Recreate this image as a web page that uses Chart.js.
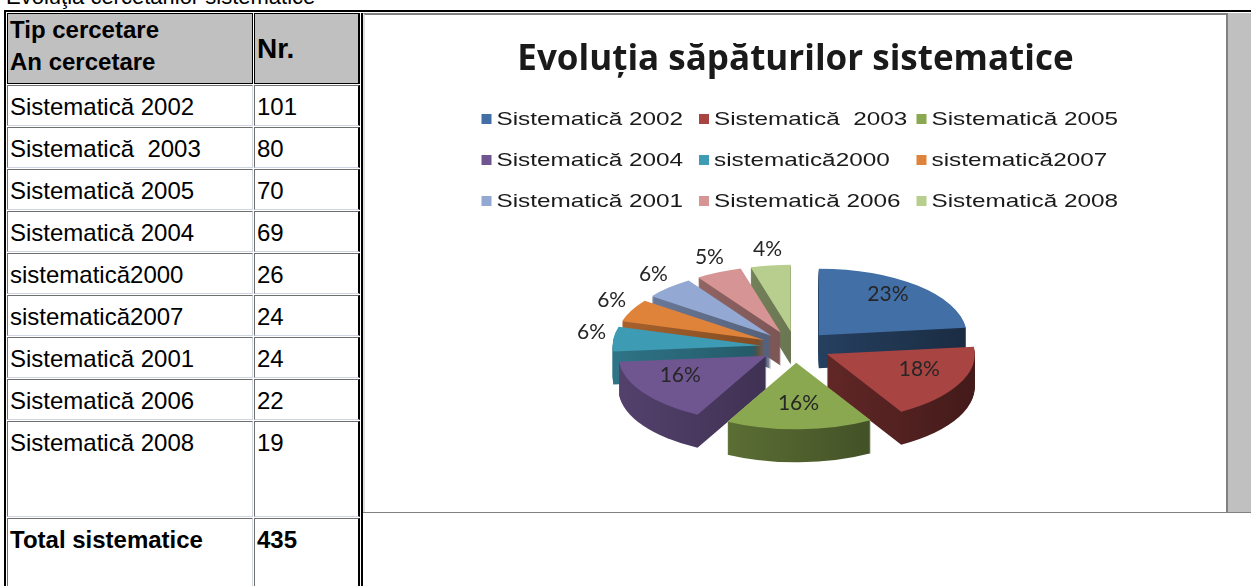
<!DOCTYPE html>
<html>
<head>
<meta charset="utf-8">
<title>Evoluția săpăturilor sistematice</title>
<script src="https://cdn.jsdelivr.net/npm/chart.js@4.4.1/dist/chart.umd.min.js"></script>
<style>
  html, body { margin: 0; padding: 0; background: #fff; }
  body { width: 1251px; height: 586px; overflow: hidden; position: relative; font-family: "Liberation Sans", Arial, sans-serif; color: #000; }
  .caption { position: absolute; left: 6px; top: -16px; font-size: 22px; white-space: nowrap; }
  table { position: absolute; left: 4px; top: 10px; width: 1258px; border-collapse: separate; border-spacing: 1px; border-top: 2px solid #000; border-left: 2px solid #000; table-layout: fixed; }
  td { box-sizing: border-box; padding: 7px 0 0 2px; vertical-align: top; font-size: 24px; line-height: 27px; white-space: pre; border: 1px solid; border-color: #6f6f6f #cfd6e2 #cfd6e2 #6f6f6f; }
  td.c1 { width: 246px; }
  td.c2 { width: 106px; border-right: 2px solid #000; }
  td.hdr { background: #c0c0c0; border: 1px solid #000; font-weight: bold; line-height: 32px; padding-top: 0; }
  td.hdr.c2 { border-right: 2px solid #000; vertical-align: middle; font-family: "Liberation Sans Narrow", "Liberation Sans", Arial, sans-serif; font-size: 28px; }
  td.tot { font-weight: bold; }
  td.chartcell { width: 900px; padding: 0; border: none; border-left: 2px solid #000; white-space: normal; line-height: 0; }
  .frame { position: relative; width: 898px; height: 499px; background: #c0c0c0; border-bottom: 1px solid #808080; }
  .plot { position: absolute; left: 0; top: 0; width: 861px; height: 497px; background: #fff; border-top: 2px solid #808080; border-left: 2px solid #dedede; border-right: 2px solid #808080; }
  canvas { display: block; }
</style>
</head>
<body>
<div class="caption">Evoluţia cercetărilor sistematice</div>
<table id="tbl"><tbody id="rows"><tr style="height:71px"><td class="hdr c1">Tip cercetare
An cercetare</td><td class="hdr c2">Nr.</td><td class="chartcell" rowspan="11"><div class="frame"><div class="plot"><canvas id="pie" width="861" height="497"></canvas></div></div></td></tr></tbody></table>
<script>
const categories = ['Sistematică 2002', 'Sistematică  2003', 'Sistematică 2005', 'Sistematică 2004', 'sistematică2000', 'sistematică2007', 'Sistematică 2001', 'Sistematică 2006', 'Sistematică 2008'];
const counts = [101, 80, 70, 69, 26, 24, 24, 22, 19];
const sliceColors = ['#416FA6', '#A84442', '#8AA84F', '#6F5690', '#3E9BB4', '#E0833A', '#93A8D2', '#D69594', '#B8CE8F'];
const totalLabel = 'Total sistematice';
const chartTitle = 'Evoluția săpăturilor sistematice';

const total = counts.reduce((a, b) => a + b, 0);

// fake 3d look
const TILT = 0.45;
const DEPTH = 33;
const EXPLODE = 35;

// table rows
const rows = document.getElementById('rows');
function addRow(label, value, height, cls) {
    const tr = document.createElement('tr');
    tr.style.height = height + 'px';
    const a = document.createElement('td');
    a.className = 'c1' + (cls ? ' ' + cls : '');
    a.textContent = label;
    const b = document.createElement('td');
    b.className = 'c2' + (cls ? ' ' + cls : '');
    b.textContent = value;
    tr.appendChild(a);
    tr.appendChild(b);
    rows.appendChild(tr);
}
categories.forEach((c, i) => addRow(c, counts[i], i === categories.length - 1 ? 96 : 41));
addRow(totalLabel, total, 80, 'tot');

function shade(hex, f) {
    const n = parseInt(hex.slice(1), 16);
    const r = Math.round(((n >> 16) & 255) * f);
    const g = Math.round(((n >> 8) & 255) * f);
    const b = Math.round((n & 255) * f);
    return `rgb(${r},${g},${b})`;
}

function midAngle(arc) {
    return (arc.startAngle + arc.endAngle) / 2;
}

// move one slice out and squash it
function place(ctx, arc, dy) {
    const h = midAngle(arc);
    ctx.translate(arc.x + Math.cos(h) * EXPLODE, arc.y + Math.sin(h) * EXPLODE * TILT + dy);
    ctx.scale(1, TILT);
    ctx.translate(-arc.x, -arc.y);
}

const pie3d = {
    id: 'pie3d',
    beforeDatasetDraw(chart, args) {
        const ctx = chart.ctx;
        const arcs = args.meta.data;
        // sides, back slices first
        const order = arcs.map((a, i) => i).sort((p, q) => Math.sin(midAngle(arcs[p])) - Math.sin(midAngle(arcs[q])));
        order.forEach(i => {
            const arc = arcs[i];
            const grad = ctx.createLinearGradient(arc.x - arc.outerRadius, 0, arc.x + arc.outerRadius, 0);
            grad.addColorStop(0, shade(sliceColors[i], 0.75));
            grad.addColorStop(1, shade(sliceColors[i], 0.4));
            for (let d = DEPTH; d > 0; d--) {
                ctx.save();
                place(ctx, arc, d);
                ctx.fillStyle = grad;
                ctx.beginPath();
                ctx.moveTo(arc.x, arc.y);
                ctx.arc(arc.x, arc.y, arc.outerRadius, arc.startAngle, arc.endAngle);
                ctx.closePath();
                ctx.fill();
                ctx.restore();
            }
        });
        // top faces
        arcs.forEach(arc => {
            ctx.save();
            place(ctx, arc, 0);
            arc.draw(ctx);
            ctx.restore();
        });
        return false;
    },
    afterDatasetsDraw(chart) {
        const ctx = chart.ctx;
        const arcs = chart.getDatasetMeta(0).data;
        ctx.save();
        ctx.font = '21px Lato, "Noto Sans", sans-serif';
        ctx.fillStyle = '#262626';
        ctx.textAlign = 'center';
        ctx.textBaseline = 'middle';
        arcs.forEach((arc, i) => {
            const share = counts[i] / total;
            const h = midAngle(arc);
            const r = share >= 0.1 ? EXPLODE + arc.outerRadius * 0.7 : EXPLODE + arc.outerRadius + 22;
            ctx.fillText(Math.round(share * 100) + '%', arc.x + Math.cos(h) * r, arc.y + Math.sin(h) * r * TILT - 6);
        });
        ctx.restore();
    }
};

// legend laid out as a 3 column grid
const legendGrid = {
    id: 'legendGrid',
    afterDraw(chart) {
        const ctx = chart.ctx;
        const colW = 217.5, rowH = 41;
        const left = chart.width / 2 - 314;
        const top = 104;
        ctx.save();
        ctx.font = '19px "Liberation Sans", Arial, sans-serif';
        ctx.textBaseline = 'alphabetic';
        categories.forEach((c, i) => {
            const x = left + (i % 3) * colW;
            const y = top + Math.floor(i / 3) * rowH;
            ctx.fillStyle = sliceColors[i];
            ctx.fillRect(x, y - 5, 10, 10);
            ctx.fillStyle = '#1a1a1a';
            ctx.save();
            ctx.translate(x + 15, y + 6);
            ctx.scale(1.28, 1);
            ctx.fillText(c, 0, 0);
            ctx.restore();
        });
        ctx.restore();
    }
};

function drawChart() {
    new Chart(document.getElementById('pie'), {
        type: 'pie',
        data: {
            labels: categories,
            datasets: [{
                data: counts,
                backgroundColor: sliceColors,
                borderWidth: 0,
                clip: false
            }]
        },
        options: {
            responsive: false,
            animation: false,
            events: [],
            radius: 148,
            layout: { padding: { bottom: 59 } },
            plugins: {
                legend: { display: false },
                tooltip: { enabled: false },
                title: {
                    display: true,
                    text: chartTitle,
                    color: '#1a1a1a',
                    font: { family: '"Open Sans", Lato, sans-serif', size: 35, weight: 'bold' },
                    padding: { top: 24, bottom: 160 }
                }
            }
        },
        plugins: [pie3d, legendGrid]
    });
}

Promise.all([
    document.fonts.load('bold 35px "Open Sans"'),
    document.fonts.load('21px Lato'),
    document.fonts.load('19px "Liberation Sans"')
]).then(drawChart, drawChart);
</script>
</body>
</html>
